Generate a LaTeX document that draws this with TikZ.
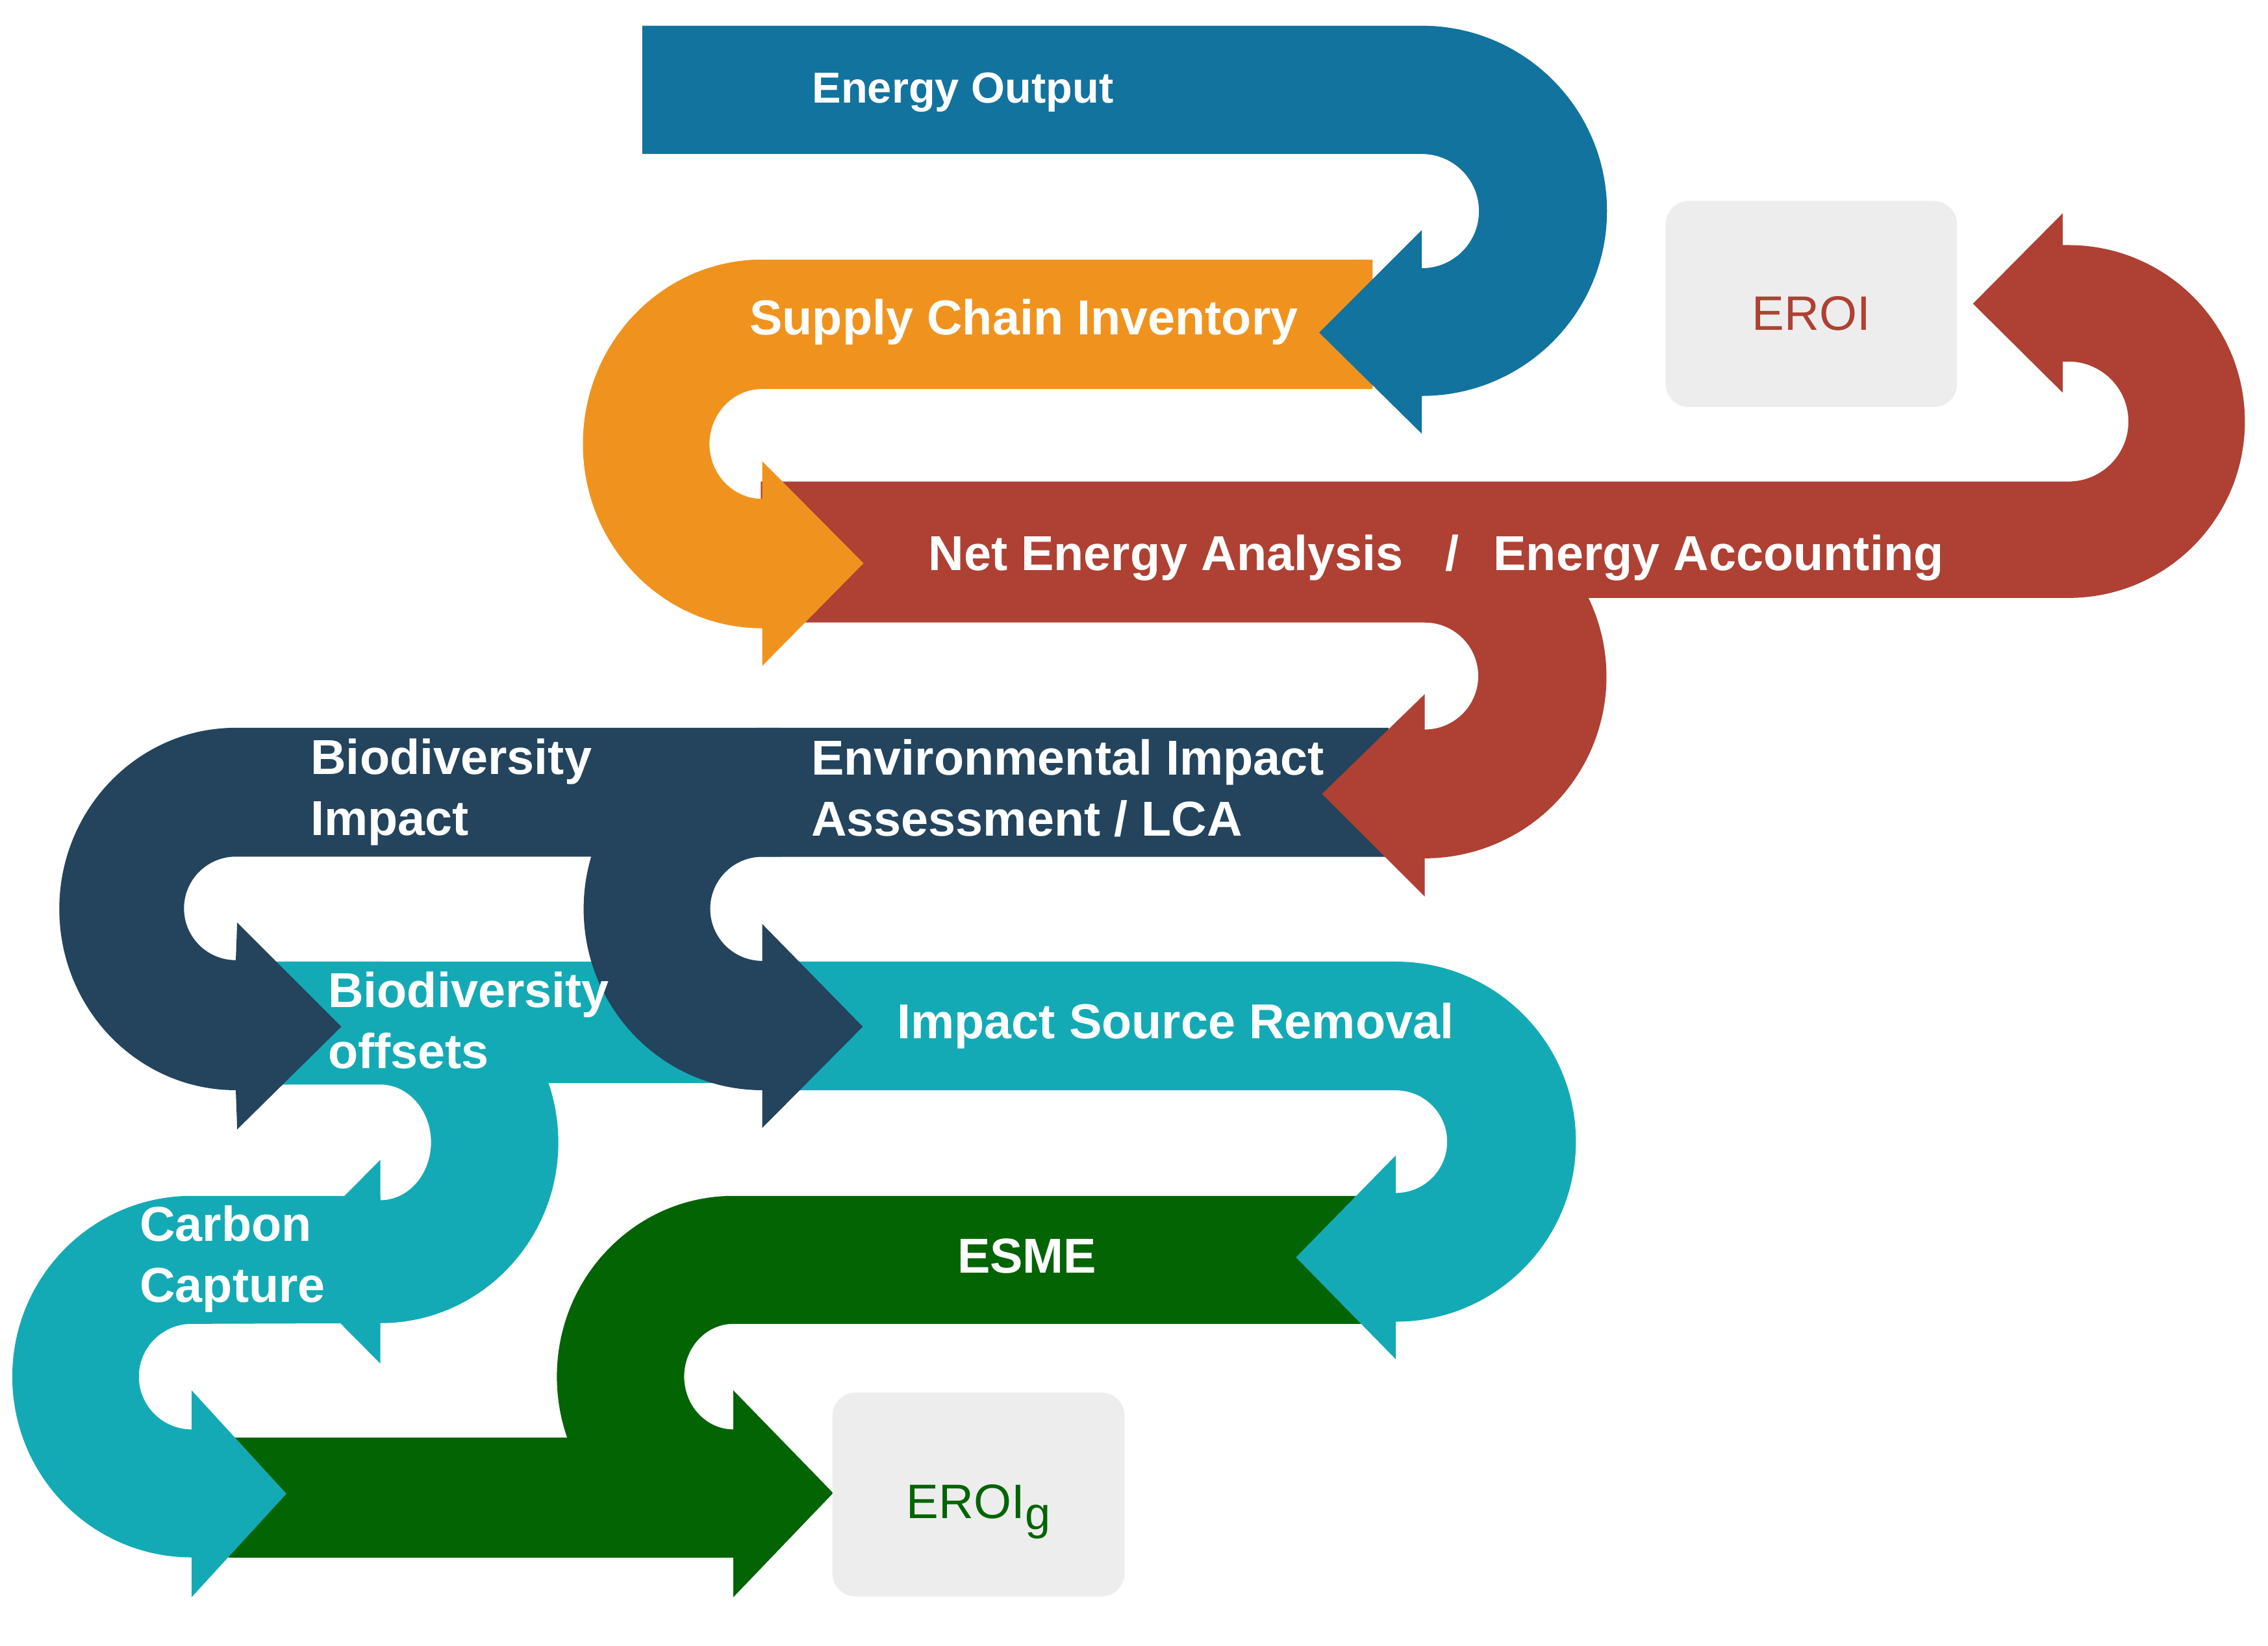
\documentclass[tikz,border=0pt]{standalone}
\usepackage{fontspec}
\setmainfont{Liberation Sans}
\definecolor{cBlue}{RGB}{18,115,158}
\definecolor{cOrange}{RGB}{240,147,30}
\definecolor{cRed}{RGB}{174,65,51}
\definecolor{cNavy}{RGB}{35,68,92}
\definecolor{cTeal}{RGB}{20,170,181}
\definecolor{cGreen}{RGB}{3,100,3}
\definecolor{cBox}{RGB}{237,237,237}
\begin{document}
\begin{tikzpicture}[x=0.02227cm,y=0.02227cm,
  lbl/.style={text=white,font=\bfseries\fontsize{21.5}{26.8}\selectfont,inner sep=0pt,anchor=base west,align=left},
  resultbox/.style={fill=cBox,rounded corners=0.36cm,inner sep=0pt,
    font=\fontsize{21.2}{24}\selectfont,text depth=0pt}]
\useasboundingbox (0,0) rectangle (1568,-1138);

% ---------- green (ESME) ----------
\fill[cGreen] (158,-994) rectangle (507,-1077);
\fill[cGreen] (945,-827) -- (507,-827)
  arc[start angle=90,end angle=270,x radius=122,y radius=125]
  -- (507,-1104.5) -- (576,-1032.5) -- (507,-961.5) -- (507,-988.5)
  arc[start angle=270,end angle=90,x radius=34,y radius=36.5]
  -- (945,-915.5) -- cycle;

% ---------- teal ----------
\fill[cTeal] (190,-665) rectangle (545,-749);
\fill[cTeal] (190,-665) -- (263,-665)
  arc[start angle=90,end angle=-90,x radius=123,y radius=125]
  -- (263,-943) -- (193,-872.5) -- (263,-802) -- (263,-830)
  arc[start angle=-90,end angle=90,x radius=35,y radius=40]
  -- (190,-750) -- cycle;
\fill[cTeal] (263,-827) -- (132.5,-827)
  arc[start angle=90,end angle=270,x radius=124,y radius=125]
  -- (132.5,-1104.5) -- (198,-1033) -- (132.5,-961.5) -- (132.5,-988.5)
  arc[start angle=270,end angle=90,radius=36.5]
  -- (263,-915) -- cycle;
\fill[cTeal] (527,-665) -- (965,-665)
  arc[start angle=90,end angle=-90,radius=124.5]
  -- (965,-940) -- (896,-869.5) -- (965,-799) -- (965,-825)
  arc[start angle=-90,end angle=90,radius=35.5]
  -- (527,-754) -- cycle;

% ---------- navy ----------
\fill[cNavy] (960,-503.3) -- (527,-503.3)
  arc[start angle=90,end angle=270,x radius=123.5,y radius=125.3]
  -- (527,-780) -- (596.5,-710) -- (527,-639) -- (527,-664.5)
  arc[start angle=270,end angle=90,radius=36]
  -- (960,-592.5) -- cycle;
\fill[cNavy] (540,-503.3) -- (163,-503.3)
  arc[start angle=90,end angle=270,x radius=122,y radius=125.3]
  -- (164,-781) -- (236,-710) -- (164,-638) -- (163,-664)
  arc[start angle=270,end angle=90,radius=35.8]
  -- (540,-592.4) -- cycle;

% ---------- red (one outline) ----------
\fill[cRed] (526,-333) -- (1430,-333)
  arc[start angle=-90,end angle=90,radius=41.5]
  -- (1426,-250) -- (1426,-271.5) -- (1364,-210) -- (1426,-147.5) -- (1426,-169.5) -- (1430,-169.5)
  arc[start angle=90,end angle=-90,radius=122]
  -- (1098.2,-413.5)
  arc[start angle=25.7,end angle=-90,radius=125.6]
  -- (985,-620) -- (914,-549) -- (985,-480) -- (985,-504.5)
  arc[start angle=-90,end angle=90,radius=37]
  -- (526,-430.5) -- cycle;

% ---------- orange ----------
\fill[cOrange] (949,-179.5) -- (527,-179.5)
  arc[start angle=90,end angle=270,x radius=124,y radius=127.5]
  -- (527,-460.5) -- (597,-389.5) -- (527,-319) -- (527,-345)
  arc[start angle=270,end angle=90,x radius=36.5,y radius=38]
  -- (949,-269) -- cycle;

% ---------- blue ----------
\fill[cBlue] (444,-17.8) -- (983,-17.8)
  arc[start angle=90,end angle=-90,radius=128]
  -- (983,-300) -- (912,-230) -- (983,-159) -- (983,-185.5)
  arc[start angle=-90,end angle=90,radius=39.5]
  -- (444,-106.5) -- cycle;

% ---------- result boxes ----------
\node[resultbox,minimum width=4.487cm,minimum height=3.174cm,text height=0.80cm,text=cRed]
  (eroi) at (1252.25,-210.25) {EROI};
\node[resultbox,minimum width=4.499cm,minimum height=3.140cm,text height=0.735cm,text=cGreen]
  (eroig) at (676.5,-1033.5) {EROI\raisebox{-4.9pt}{\fontsize{20}{20}\selectfont g}};

% ---------- labels (anchor = baseline of last line) ----------
\node[lbl,font=\bfseries\fontsize{19}{23}\selectfont] (tOut) at (561.2,-71.1) {Energy Output};
\node[lbl] (tSupply) at (518,-231.5) {Supply Chain Inventory};
\node[lbl] (tNet) at (641.6,-394.5) {Net Energy Analysis\hspace{0.86em}/\hspace{0.7em}Energy Accounting};
\node[lbl] (tBioImp) at (214.5,-577.7) {Biodiversity\\Impact};
\node[lbl] (tEnv) at (560.6,-578) {Environmental Impact\\Assessment / LCA};
\node[lbl] (tBioOff) at (226.5,-738.9) {Biodiversity\\offsets};
\node[lbl] (tRemoval) at (620,-718) {Impact Source Removal};
\node[lbl] (tCarbon) at (96.4,-900.6) {Carbon\\Capture};
\node[lbl] (tESME) at (661.6,-880.3) {ESME};
\end{tikzpicture}
\end{document}
